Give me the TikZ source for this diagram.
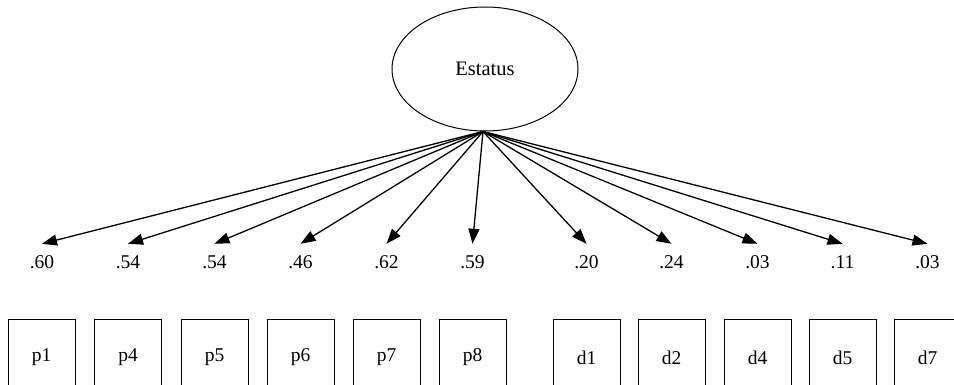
\documentclass[tikz,border=0pt]{standalone}
\usepackage{fontspec}
\setmainfont{Liberation Serif}
\usetikzlibrary{shapes.geometric,arrows.meta}
\begin{document}
\begin{tikzpicture}[x=1pt,y=-1pt,
  latent/.style={draw,ellipse,line width=1pt,minimum width=186pt,minimum height=124pt,inner sep=0pt,font=\fontsize{20.5}{24}\selectfont},
  coef/.style={font=\fontsize{19.5}{23}\selectfont,text height=13pt,text depth=0pt,inner xsep=0pt,inner ysep=12pt,anchor=base},
  obs/.style={draw,line width=1pt,minimum width=67pt,minimum height=77pt,inner sep=0pt,font=\fontsize{19.5}{23}\selectfont},
  load/.style={-{Triangle[length=15pt,width=11pt]},line width=1.3pt}]
\clip (0,0) rectangle (954,385);
\fill[white] (0,0) rectangle (954,385);
\node[latent] (E) at (485,69) {Estatus};
\foreach \n/\x/\t in {1/42/.60,2/128/.54,3/214.5/.54,4/300.5/.46,5/386.5/.62,6/472.5/.59,7/586.5/.20,8/671.5/.24,9/757.5/.03,10/842.5/.11,11/927.5/.03}{
  \node[coef] (c\n) at (\x,269) {\t};
}
\foreach \n/\x/\t in {1/41.5/p1,2/128/p4,3/214.5/p5,4/300.5/p6,5/386.5/p7,6/472.5/p8,7/586.5/d1,8/671.5/d2,9/757.5/d4,10/842.5/d5,11/927.5/d7}{
  \node[obs] (b\n) at (\x,357.5) {\t};
}
\foreach \n in {1,...,11}{
  \draw[load] ([xshift=-2pt]E.south) -- (c\n.north);
}
\end{tikzpicture}
\end{document}
